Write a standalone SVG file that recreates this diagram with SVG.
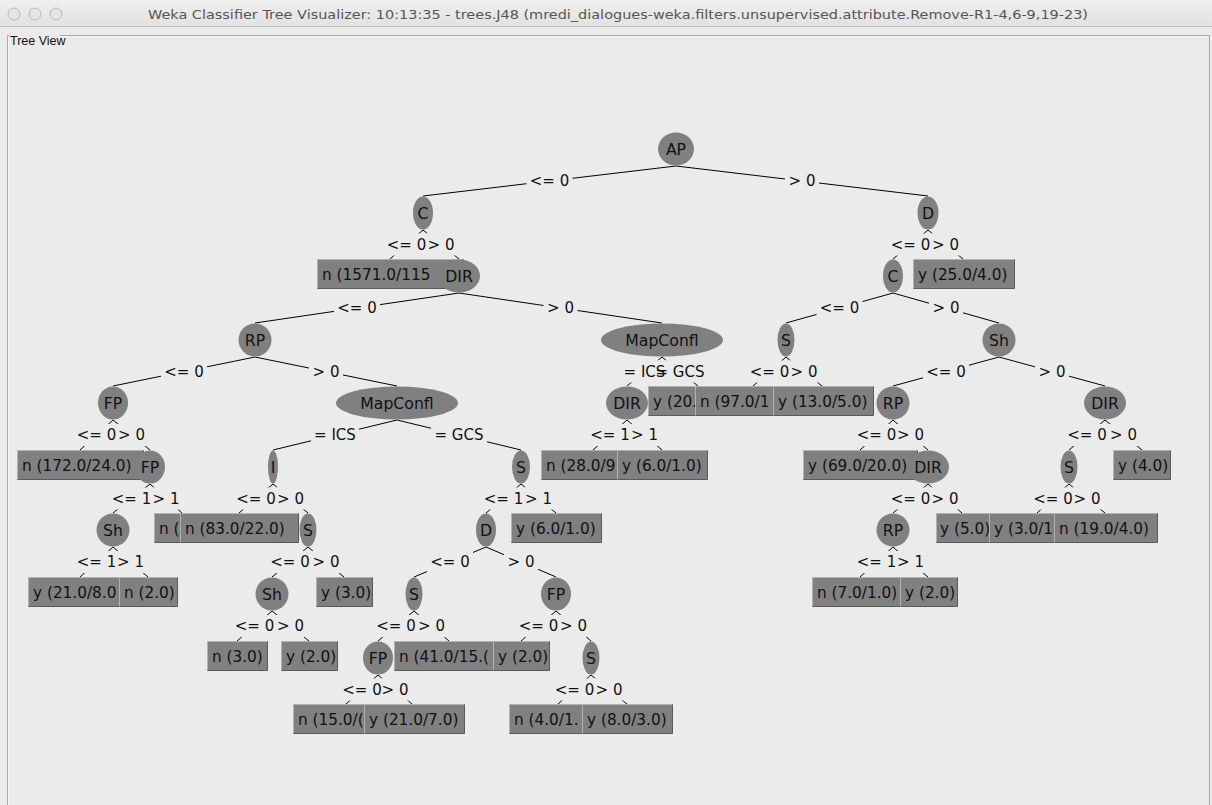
<svg xmlns="http://www.w3.org/2000/svg" width="1212" height="805" viewBox="0 0 1212 805">
<defs>
<linearGradient id="tb" x1="0" y1="0" x2="0" y2="1"><stop offset="0" stop-color="#efefef"/><stop offset="1" stop-color="#e1e1e1"/></linearGradient>
</defs>
<style>
.e{stroke:#000;stroke-width:1;fill:none}
.lb{fill:#ebebeb}
.lt{font-family:"DejaVu Sans",sans-serif;font-size:15px;fill:#111;text-anchor:middle}
.n ellipse{fill:#808080}
.nt{font-family:"DejaVu Sans",sans-serif;font-size:15.7px;fill:#111;text-anchor:middle}
.l rect{fill:#808080;stroke:#b2b2b2;stroke-width:1}
.l path{fill:none;stroke:#5a5a5a;stroke-width:1}
.l text{font-family:"DejaVu Sans",sans-serif;font-size:15.3px;fill:#111}
</style>
<rect x="0" y="0" width="1212" height="805" fill="#ebebeb"/>
<g id="window-chrome">
<rect x="0" y="0" width="1212" height="27" fill="url(#tb)"/>
<line x1="0" y1="26.5" x2="1212" y2="26.5" stroke="#bcbcbc"/>
<circle cx="14" cy="14" r="6" fill="#e4e4e4" stroke="#b8b8b8"/>
<circle cx="35" cy="14" r="6" fill="#e4e4e4" stroke="#b8b8b8"/>
<circle cx="56" cy="14" r="6" fill="#e4e4e4" stroke="#b8b8b8"/>
<text x="618" y="18.5" font-family="DejaVu Sans, sans-serif" font-size="13" fill="#555" text-anchor="middle" textLength="940" lengthAdjust="spacingAndGlyphs">Weka Classifier Tree Visualizer: 10:13:35 - trees.J48 (mredi_dialogues-weka.filters.unsupervised.attribute.Remove-R1-4,6-9,19-23)</text>
<path d="M9.5,35.5 H7.5 V805 M60,35.5 H1209.5 V805" fill="none" stroke="#a8a8a8"/>
<path d="M8.5,36.5 V805 M60,36.5 H1208.5" fill="none" stroke="#f6f6f6"/>
<text x="10" y="45" font-family="Liberation Sans, sans-serif" font-size="12.5" fill="#111">Tree View</text>
</g>
<g id="connectors">
<g class="e">
<line x1="676" y1="166" x2="423" y2="196"/><line x1="676" y1="166" x2="928" y2="196"/>
<line x1="423" y1="230" x2="390" y2="259"/><line x1="423" y1="230" x2="459" y2="259"/>
<line x1="459" y1="293" x2="255" y2="323"/><line x1="459" y1="293" x2="662" y2="323"/>
<line x1="255" y1="357" x2="113" y2="386"/><line x1="255" y1="357" x2="397" y2="386"/>
<line x1="113" y1="420" x2="80" y2="450"/><line x1="113" y1="420" x2="150" y2="450"/>
<line x1="150" y1="484" x2="113" y2="513"/><line x1="150" y1="484" x2="182" y2="513"/>
<line x1="113" y1="547" x2="80" y2="577"/><line x1="113" y1="547" x2="148" y2="577"/>
<line x1="397" y1="420" x2="273" y2="450"/><line x1="397" y1="420" x2="521" y2="450"/>
<line x1="273" y1="484" x2="239" y2="513"/><line x1="273" y1="484" x2="308" y2="513"/>
<line x1="308" y1="547" x2="272" y2="577"/><line x1="308" y1="547" x2="344" y2="577"/>
<line x1="272" y1="611" x2="237" y2="641"/><line x1="272" y1="611" x2="309" y2="641"/>
<line x1="521" y1="484" x2="486" y2="513"/><line x1="521" y1="484" x2="556" y2="513"/>
<line x1="486" y1="547" x2="414" y2="577"/><line x1="486" y1="547" x2="556" y2="577"/>
<line x1="414" y1="611" x2="378" y2="641"/><line x1="414" y1="611" x2="449" y2="641"/>
<line x1="378" y1="675" x2="346" y2="704"/><line x1="378" y1="675" x2="412" y2="704"/>
<line x1="556" y1="611" x2="521" y2="641"/><line x1="556" y1="611" x2="591" y2="641"/>
<line x1="591" y1="675" x2="558" y2="704"/><line x1="591" y1="675" x2="627" y2="704"/>
<line x1="662" y1="357" x2="627" y2="386"/><line x1="662" y1="357" x2="698" y2="386"/>
<line x1="627" y1="420" x2="593" y2="450"/><line x1="627" y1="420" x2="662" y2="450"/>
<line x1="928" y1="230" x2="893" y2="259"/><line x1="928" y1="230" x2="963" y2="259"/>
<line x1="893" y1="293" x2="786" y2="323"/><line x1="893" y1="293" x2="999" y2="323"/>
<line x1="786" y1="357" x2="753" y2="386"/><line x1="786" y1="357" x2="822" y2="386"/>
<line x1="999" y1="357" x2="893" y2="386"/><line x1="999" y1="357" x2="1105" y2="386"/>
<line x1="893" y1="420" x2="860" y2="450"/><line x1="893" y1="420" x2="928" y2="450"/>
<line x1="928" y1="484" x2="893" y2="513"/><line x1="928" y1="484" x2="962" y2="513"/>
<line x1="893" y1="547" x2="860" y2="577"/><line x1="893" y1="547" x2="928" y2="577"/>
<line x1="1105" y1="420" x2="1069" y2="450"/><line x1="1105" y1="420" x2="1142" y2="450"/>
<line x1="1069" y1="484" x2="1037" y2="513"/><line x1="1069" y1="484" x2="1105" y2="513"/>
</g>
<g class="lb">
<rect x="526.5" y="170" width="46" height="22"/><rect x="785" y="170" width="34" height="22"/>
<rect x="383.5" y="233.5" width="46" height="22"/><rect x="424" y="233.5" width="34" height="22"/>
<rect x="334" y="297" width="46" height="22"/><rect x="543.5" y="297" width="34" height="22"/>
<rect x="161" y="360.5" width="46" height="22"/><rect x="309" y="360.5" width="34" height="22"/>
<rect x="73.5" y="424" width="46" height="22"/><rect x="114.5" y="424" width="34" height="22"/>
<rect x="108.5" y="487.5" width="46" height="22"/><rect x="149" y="487.5" width="34" height="22"/>
<rect x="73.5" y="551" width="46" height="22"/><rect x="113.5" y="551" width="34" height="22"/>
<rect x="311" y="424" width="48" height="22"/><rect x="431" y="424" width="56" height="22"/>
<rect x="233" y="487.5" width="46" height="22"/><rect x="273.5" y="487.5" width="34" height="22"/>
<rect x="267" y="551" width="46" height="22"/><rect x="309" y="551" width="34" height="22"/>
<rect x="231.5" y="615" width="46" height="22"/><rect x="273.5" y="615" width="34" height="22"/>
<rect x="480.5" y="487.5" width="46" height="22"/><rect x="521.5" y="487.5" width="34" height="22"/>
<rect x="427" y="551" width="46" height="22"/><rect x="504" y="551" width="34" height="22"/>
<rect x="373" y="615" width="46" height="22"/><rect x="414.5" y="615" width="34" height="22"/>
<rect x="339" y="678.5" width="46" height="22"/><rect x="378" y="678.5" width="34" height="22"/>
<rect x="515.5" y="615" width="46" height="22"/><rect x="556.5" y="615" width="34" height="22"/>
<rect x="551.5" y="678.5" width="46" height="22"/><rect x="592" y="678.5" width="34" height="22"/>
<rect x="620.5" y="360.5" width="48" height="22"/><rect x="652" y="360.5" width="56" height="22"/>
<rect x="587" y="424" width="46" height="22"/><rect x="627.5" y="424" width="34" height="22"/>
<rect x="887.5" y="233.5" width="46" height="22"/><rect x="928.5" y="233.5" width="34" height="22"/>
<rect x="816.5" y="297" width="46" height="22"/><rect x="929" y="297" width="34" height="22"/>
<rect x="746.5" y="360.5" width="46" height="22"/><rect x="787" y="360.5" width="34" height="22"/>
<rect x="923" y="360.5" width="46" height="22"/><rect x="1035" y="360.5" width="34" height="22"/>
<rect x="853.5" y="424" width="46" height="22"/><rect x="893.5" y="424" width="34" height="22"/>
<rect x="887.5" y="487.5" width="46" height="22"/><rect x="928" y="487.5" width="34" height="22"/>
<rect x="853.5" y="551" width="46" height="22"/><rect x="893.5" y="551" width="34" height="22"/>
<rect x="1064" y="424" width="46" height="22"/><rect x="1106.5" y="424" width="34" height="22"/>
<rect x="1030" y="487.5" width="46" height="22"/><rect x="1070" y="487.5" width="34" height="22"/>
</g>
<g class="lt">
<text x="549.5" y="186">&lt;= 0</text><text x="802" y="186">&gt; 0</text>
<text x="406.5" y="249.5">&lt;= 0</text><text x="441" y="249.5">&gt; 0</text>
<text x="357" y="313">&lt;= 0</text><text x="560.5" y="313">&gt; 0</text>
<text x="184" y="376.5">&lt;= 0</text><text x="326" y="376.5">&gt; 0</text>
<text x="96.5" y="440">&lt;= 0</text><text x="131.5" y="440">&gt; 0</text>
<text x="131.5" y="503.5">&lt;= 1</text><text x="166" y="503.5">&gt; 1</text>
<text x="96.5" y="567">&lt;= 1</text><text x="130.5" y="567">&gt; 1</text>
<text x="335" y="440">= ICS</text><text x="459" y="440">= GCS</text>
<text x="256" y="503.5">&lt;= 0</text><text x="290.5" y="503.5">&gt; 0</text>
<text x="290" y="567">&lt;= 0</text><text x="326" y="567">&gt; 0</text>
<text x="254.5" y="631">&lt;= 0</text><text x="290.5" y="631">&gt; 0</text>
<text x="503.5" y="503.5">&lt;= 1</text><text x="538.5" y="503.5">&gt; 1</text>
<text x="450" y="567">&lt;= 0</text><text x="521" y="567">&gt; 0</text>
<text x="396" y="631">&lt;= 0</text><text x="431.5" y="631">&gt; 0</text>
<text x="362" y="694.5">&lt;= 0</text><text x="395" y="694.5">&gt; 0</text>
<text x="538.5" y="631">&lt;= 0</text><text x="573.5" y="631">&gt; 0</text>
<text x="574.5" y="694.5">&lt;= 0</text><text x="609" y="694.5">&gt; 0</text>
<text x="644.5" y="376.5">= ICS</text><text x="680" y="376.5">= GCS</text>
<text x="610" y="440">&lt;= 1</text><text x="644.5" y="440">&gt; 1</text>
<text x="910.5" y="249.5">&lt;= 0</text><text x="945.5" y="249.5">&gt; 0</text>
<text x="839.5" y="313">&lt;= 0</text><text x="946" y="313">&gt; 0</text>
<text x="769.5" y="376.5">&lt;= 0</text><text x="804" y="376.5">&gt; 0</text>
<text x="946" y="376.5">&lt;= 0</text><text x="1052" y="376.5">&gt; 0</text>
<text x="876.5" y="440">&lt;= 0</text><text x="910.5" y="440">&gt; 0</text>
<text x="910.5" y="503.5">&lt;= 0</text><text x="945" y="503.5">&gt; 0</text>
<text x="876.5" y="567">&lt;= 1</text><text x="910.5" y="567">&gt; 1</text>
<text x="1087" y="440">&lt;= 0</text><text x="1123.5" y="440">&gt; 0</text>
<text x="1053" y="503.5">&lt;= 0</text><text x="1087" y="503.5">&gt; 0</text>
</g>
</g>
<g id="n-AP" class="n"><ellipse cx="676" cy="149" rx="18" ry="16.5"/><text class="nt" x="676" y="154.5">AP</text></g>
<g id="n-C" class="n"><ellipse cx="423" cy="213" rx="10" ry="16.5"/><text class="nt" x="423" y="218.5">C</text></g>
<g id="leaf-1" class="l"><rect x="317.5" y="259.5" width="146" height="29"/><path d="M463.5,259.5V288.5H317.5"/><text x="322" y="280">n (1571.0/115</text></g>
<g id="n-DIR" class="n"><ellipse cx="459" cy="276" rx="21" ry="16.5"/><text class="nt" x="459" y="281.5">DIR</text></g>
<g id="n-RP" class="n"><ellipse cx="255" cy="340" rx="16.5" ry="16.5"/><text class="nt" x="255" y="345.5">RP</text></g>
<g id="n-FP" class="n"><ellipse cx="113" cy="403" rx="15" ry="16.5"/><text class="nt" x="113" y="408.5">FP</text></g>
<g id="leaf-2" class="l"><rect x="17.5" y="450.5" width="126" height="29"/><path d="M143.5,450.5V479.5H17.5"/><text x="22" y="471">n (172.0/24.0)</text></g>
<g id="n-FP2" class="n"><ellipse cx="150" cy="467" rx="15" ry="16.5"/><text class="nt" x="150" y="472.5">FP</text></g>
<g id="n-Sh" class="n"><ellipse cx="113" cy="530" rx="16.5" ry="16.5"/><text class="nt" x="113" y="535.5">Sh</text></g>
<g id="leaf-3" class="l"><rect x="28.5" y="577.5" width="104" height="29"/><path d="M132.5,577.5V606.5H28.5"/><text x="33" y="598">y (21.0/8.0</text></g>
<g id="leaf-4" class="l"><rect x="119.5" y="577.5" width="58" height="29"/><path d="M177.5,577.5V606.5H119.5"/><text x="124" y="598">n (2.0)</text></g>
<g id="leaf-5" class="l"><rect x="154.5" y="513.5" width="56" height="29"/><path d="M210.5,513.5V542.5H154.5"/><text x="159" y="534">n (</text></g>
<g id="n-MapConfl" class="n"><ellipse cx="397" cy="403" rx="61" ry="16.5"/><text class="nt" x="397" y="408.5">MapConfl</text></g>
<g id="n-I" class="n"><ellipse cx="273" cy="467" rx="5" ry="16.5"/><text class="nt" x="273" y="472.5">I</text></g>
<g id="leaf-6" class="l"><rect x="180.5" y="513.5" width="118" height="29"/><path d="M298.5,513.5V542.5H180.5"/><text x="185" y="534">n (83.0/22.0)</text></g>
<g id="n-S" class="n"><ellipse cx="308" cy="530" rx="8.5" ry="16.5"/><text class="nt" x="308" y="535.5">S</text></g>
<g id="n-Sh2" class="n"><ellipse cx="272" cy="594" rx="16.5" ry="16.5"/><text class="nt" x="272" y="599.5">Sh</text></g>
<g id="leaf-7" class="l"><rect x="207.5" y="641.5" width="60" height="29"/><path d="M267.5,641.5V670.5H207.5"/><text x="212" y="662">n (3.0)</text></g>
<g id="leaf-8" class="l"><rect x="281.5" y="641.5" width="56" height="29"/><path d="M337.5,641.5V670.5H281.5"/><text x="286" y="662">y (2.0)</text></g>
<g id="leaf-9" class="l"><rect x="316.5" y="577.5" width="56" height="29"/><path d="M372.5,577.5V606.5H316.5"/><text x="321" y="598">y (3.0)</text></g>
<g id="n-S2" class="n"><ellipse cx="521" cy="467" rx="9" ry="16.5"/><text class="nt" x="521" y="472.5">S</text></g>
<g id="n-D" class="n"><ellipse cx="486" cy="530" rx="10" ry="16.5"/><text class="nt" x="486" y="535.5">D</text></g>
<g id="n-S3" class="n"><ellipse cx="414" cy="594" rx="8.5" ry="16.5"/><text class="nt" x="414" y="599.5">S</text></g>
<g id="n-FP3" class="n"><ellipse cx="378" cy="658" rx="15" ry="16.5"/><text class="nt" x="378" y="663.5">FP</text></g>
<g id="leaf-10" class="l"><rect x="293.5" y="704.5" width="106" height="29"/><path d="M399.5,704.5V733.5H293.5"/><text x="298" y="725">n (15.0/(</text></g>
<g id="leaf-11" class="l"><rect x="364.5" y="704.5" width="100" height="29"/><path d="M464.5,704.5V733.5H364.5"/><text x="369" y="725">y (21.0/7.0)</text></g>
<g id="leaf-12" class="l"><rect x="394.5" y="641.5" width="110" height="29"/><path d="M504.5,641.5V670.5H394.5"/><text x="399" y="662">n (41.0/15.(</text></g>
<g id="n-FP4" class="n"><ellipse cx="556" cy="594" rx="15" ry="16.5"/><text class="nt" x="556" y="599.5">FP</text></g>
<g id="leaf-13" class="l"><rect x="493.5" y="641.5" width="56" height="29"/><path d="M549.5,641.5V670.5H493.5"/><text x="498" y="662">y (2.0)</text></g>
<g id="n-S4" class="n"><ellipse cx="591" cy="658" rx="8.5" ry="16.5"/><text class="nt" x="591" y="663.5">S</text></g>
<g id="leaf-14" class="l"><rect x="509.5" y="704.5" width="98" height="29"/><path d="M607.5,704.5V733.5H509.5"/><text x="514" y="725">n (4.0/1.</text></g>
<g id="leaf-15" class="l"><rect x="582.5" y="704.5" width="90" height="29"/><path d="M672.5,704.5V733.5H582.5"/><text x="587" y="725">y (8.0/3.0)</text></g>
<g id="leaf-16" class="l"><rect x="511.5" y="513.5" width="90" height="29"/><path d="M601.5,513.5V542.5H511.5"/><text x="516" y="534">y (6.0/1.0)</text></g>
<g id="n-MapConfl2" class="n"><ellipse cx="662" cy="340" rx="61" ry="16.5"/><text class="nt" x="662" y="345.5">MapConfl</text></g>
<g id="n-DIR2" class="n"><ellipse cx="627" cy="403" rx="21" ry="16.5"/><text class="nt" x="627" y="408.5">DIR</text></g>
<g id="leaf-17" class="l"><rect x="541.5" y="450.5" width="104" height="29"/><path d="M645.5,450.5V479.5H541.5"/><text x="546" y="471">n (28.0/9</text></g>
<g id="leaf-18" class="l"><rect x="617.5" y="450.5" width="90" height="29"/><path d="M707.5,450.5V479.5H617.5"/><text x="622" y="471">y (6.0/1.0)</text></g>
<g id="leaf-19" class="l"><rect x="648.5" y="386.5" width="100" height="29"/><path d="M748.5,386.5V415.5H648.5"/><text x="653" y="407">y (20.</text></g>
<g id="n-D2" class="n"><ellipse cx="928" cy="213" rx="10.5" ry="16.5"/><text class="nt" x="928" y="218.5">D</text></g>
<g id="n-C2" class="n"><ellipse cx="893" cy="276" rx="10" ry="16.5"/><text class="nt" x="893" y="281.5">C</text></g>
<g id="n-S5" class="n"><ellipse cx="786" cy="340" rx="8.5" ry="16.5"/><text class="nt" x="786" y="345.5">S</text></g>
<g id="leaf-20" class="l"><rect x="695.5" y="386.5" width="116" height="29"/><path d="M811.5,386.5V415.5H695.5"/><text x="700" y="407">n (97.0/1</text></g>
<g id="leaf-21" class="l"><rect x="773.5" y="386.5" width="100" height="29"/><path d="M873.5,386.5V415.5H773.5"/><text x="778" y="407">y (13.0/5.0)</text></g>
<g id="n-Sh3" class="n"><ellipse cx="999" cy="340" rx="16.5" ry="16.5"/><text class="nt" x="999" y="345.5">Sh</text></g>
<g id="n-RP2" class="n"><ellipse cx="893" cy="403" rx="16.5" ry="16.5"/><text class="nt" x="893" y="408.5">RP</text></g>
<g id="leaf-22" class="l"><rect x="803.5" y="450.5" width="114" height="29"/><path d="M917.5,450.5V479.5H803.5"/><text x="808" y="471">y (69.0/20.0)</text></g>
<g id="n-DIR3" class="n"><ellipse cx="928" cy="467" rx="21" ry="16.5"/><text class="nt" x="928" y="472.5">DIR</text></g>
<g id="n-RP3" class="n"><ellipse cx="893" cy="530" rx="16.5" ry="16.5"/><text class="nt" x="893" y="535.5">RP</text></g>
<g id="leaf-23" class="l"><rect x="812.5" y="577.5" width="96" height="29"/><path d="M908.5,577.5V606.5H812.5"/><text x="817" y="598">n (7.0/1.0)</text></g>
<g id="leaf-24" class="l"><rect x="900.5" y="577.5" width="57" height="29"/><path d="M957.5,577.5V606.5H900.5"/><text x="905" y="598">y (2.0)</text></g>
<g id="leaf-25" class="l"><rect x="936.5" y="513.5" width="53" height="29"/><path d="M989.5,513.5V542.5H936.5"/><text x="940" y="534">y (5.0)</text></g>
<g id="n-DIR4" class="n"><ellipse cx="1105" cy="403" rx="21" ry="16.5"/><text class="nt" x="1105" y="408.5">DIR</text></g>
<g id="n-S6" class="n"><ellipse cx="1069" cy="467" rx="8.5" ry="16.5"/><text class="nt" x="1069" y="472.5">S</text></g>
<g id="leaf-26" class="l"><rect x="989.5" y="513.5" width="96" height="29"/><path d="M1085.5,513.5V542.5H989.5"/><text x="994" y="534">y (3.0/1</text></g>
<g id="leaf-27" class="l"><rect x="1054.5" y="513.5" width="103" height="29"/><path d="M1157.5,513.5V542.5H1054.5"/><text x="1059" y="534">n (19.0/4.0)</text></g>
<g id="leaf-28" class="l"><rect x="1113.5" y="450.5" width="57" height="29"/><path d="M1170.5,450.5V479.5H1113.5"/><text x="1118" y="471">y (4.0)</text></g>
<g id="leaf-29" class="l"><rect x="913.5" y="259.5" width="101" height="29"/><path d="M1014.5,259.5V288.5H913.5"/><text x="918" y="280">y (25.0/4.0)</text></g>
</svg>
